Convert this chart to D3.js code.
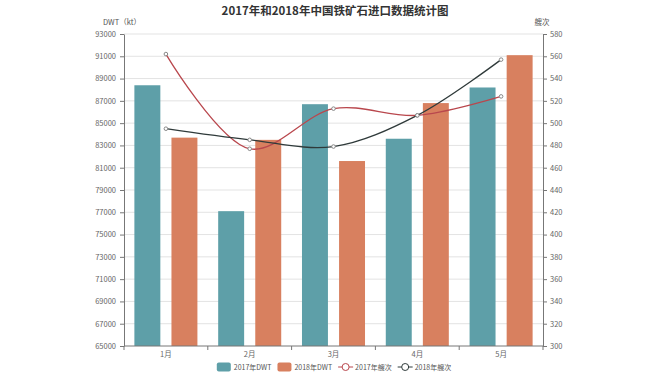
<!DOCTYPE html>
<html><head><meta charset="utf-8">
<script src="https://cdn.jsdelivr.net/npm/d3@7/dist/d3.min.js"></script>
<style>body{margin:0;background:#fff;font-family:"Noto Sans CJK SC","Noto Sans",sans-serif;}</style>
</head><body><svg id="c" width="670" height="380"></svg>
<script>
const months = ["1月","2月","3月","4月","5月"];
const dwt2017 = [88400, 77100, 86700, 83600, 88200];
const dwt2018 = [83700, 83500, 81600, 86800, 91100];
const ships2017 = [562, 477, 513, 507, 524];
const ships2018 = [495, 485, 479, 507, 557];
const leftTicks = d3.range(65000, 93001, 2000);
const rightTicks = d3.range(300, 581, 20);

const svg = d3.select("#c");
const L = 124, R = 543, T = 34, B = 346;
const font = '"Noto Sans CJK SC","Noto Sans",sans-serif';
const cTeal = "#5e9fa8", cOrange = "#d8805f", cRed = "#b9474d", cBlack = "#2f3a3a";

const x = d3.scaleBand().domain(months).range([L, R]);
const xs = d3.scaleBand().domain([0,1]).range([0, x.bandwidth()]).paddingInner(0.3).paddingOuter(0.28);
const yL = d3.scaleLinear().domain([65000, 93000]).range([B, T]);
const yR = d3.scaleLinear().domain([300, 580]).range([B, T]);

// grid
svg.append("g").selectAll("line").data(leftTicks.slice(1)).join("line")
  .attr("x1", L).attr("x2", R).attr("y1", d=>yL(d)).attr("y2", d=>yL(d))
  .attr("stroke", "#e3e3e3").attr("stroke-width", 1);

// bars
const series = [dwt2017, dwt2018];
const colors = [cTeal, cOrange];
series.forEach((s, i) => {
  svg.append("g").selectAll("rect").data(s).join("rect")
    .attr("x", (d, j) => x(months[j]) + xs(i))
    .attr("width", xs.bandwidth())
    .attr("y", d => yL(d))
    .attr("height", d => B - yL(d))
    .attr("fill", colors[i]);
});

// axes
function styleAxis(g) {
  g.selectAll("path,line").attr("stroke", "#777");
  g.selectAll("text").attr("fill", "#666").style("font-size", "7.5px").style("font-family", font);
}
svg.append("g").attr("transform", `translate(${L},0)`)
  .call(d3.axisLeft(yL).tickValues(leftTicks).tickSize(4).tickSizeOuter(0).tickPadding(4).tickFormat(d3.format("d")))
  .call(styleAxis);
svg.append("g").attr("transform", `translate(${R},0)`)
  .call(d3.axisRight(yR).tickValues(rightTicks).tickSize(4).tickSizeOuter(0).tickPadding(3).tickFormat(d3.format("d")))
  .call(styleAxis);
const xg = svg.append("g").attr("transform", `translate(0,${B})`)
  .call(d3.axisBottom(x).tickSize(0).tickPadding(6))
  .call(styleAxis);
xg.select(".domain").attr("d", `M${L},0H${R}`);
xg.append("g").selectAll("line").data(d3.range(months.length + 1)).join("line")
  .attr("x1", i => L + i * x.step()).attr("x2", i => L + i * x.step())
  .attr("y1", 0).attr("y2", 4).attr("stroke", "#777");

// lines
const lineGen = d3.line().x((d, i) => x(months[i]) + x.bandwidth() / 2).y(d => yR(d)).curve(d3.curveCatmullRom.alpha(0.5));
[[ships2017, cRed], [ships2018, cBlack]].forEach(([s, c]) => {
  svg.append("path").datum(s).attr("d", lineGen).attr("fill", "none").attr("stroke", c).attr("stroke-width", 1.3);
  svg.append("g").selectAll("circle").data(s).join("circle")
    .attr("cx", (d, i) => x(months[i]) + x.bandwidth() / 2).attr("cy", d => yR(d))
    .attr("r", 1.8).attr("fill", "#fff").attr("stroke", "#888").attr("stroke-width", 1);
});

// titles
svg.append("text").attr("x", 335).attr("y", 15).attr("text-anchor", "middle")
  .style("font-size", "11.5px").style("font-weight", "bold").style("font-family", font).attr("fill", "#333")
  .text("2017年和2018年中国铁矿石进口数据统计图");
svg.append("text").attr("x", 122).attr("y", 25).attr("text-anchor", "middle")
  .style("font-size", "7.5px").style("font-family", font).attr("fill", "#555").text("DWT（kt）");
svg.append("text").attr("x", 542).attr("y", 25).attr("text-anchor", "middle")
  .style("font-size", "7.5px").style("font-family", font).attr("fill", "#555").text("艘次");

// legend
const legend = [
  {name: "2017年DWT", type: "rect", color: cTeal},
  {name: "2018年DWT", type: "rect", color: cOrange},
  {name: "2017年艘次", type: "line", color: cRed},
  {name: "2018年艘次", type: "line", color: cBlack}
];
const ly = 367;
const lg = svg.append("g");
let cx = 0;
legend.forEach(it => {
  const g = lg.append("g");
  if (it.type === "rect") {
    g.append("rect").attr("x", cx).attr("y", ly - 4.5).attr("width", 14).attr("height", 9).attr("rx", 2).attr("fill", it.color);
  } else {
    g.append("line").attr("x1", cx).attr("x2", cx + 15).attr("y1", ly).attr("y2", ly).attr("stroke", it.color).attr("stroke-width", 1);
    g.append("circle").attr("cx", cx + 7.5).attr("cy", ly).attr("r", 3.5).attr("fill", "#fff").attr("stroke", it.color).attr("stroke-width", 1);
  }
  const t = g.append("text").attr("x", cx + 17).attr("y", ly + 3).style("font-size", "7px").style("font-family", font).attr("fill", "#555").text(it.name);
  cx += 17 + t.node().getComputedTextLength() + 6;
});
const totalW = cx - 6;
lg.attr("transform", `translate(${334 - totalW / 2},0)`);
</script></body></html>
